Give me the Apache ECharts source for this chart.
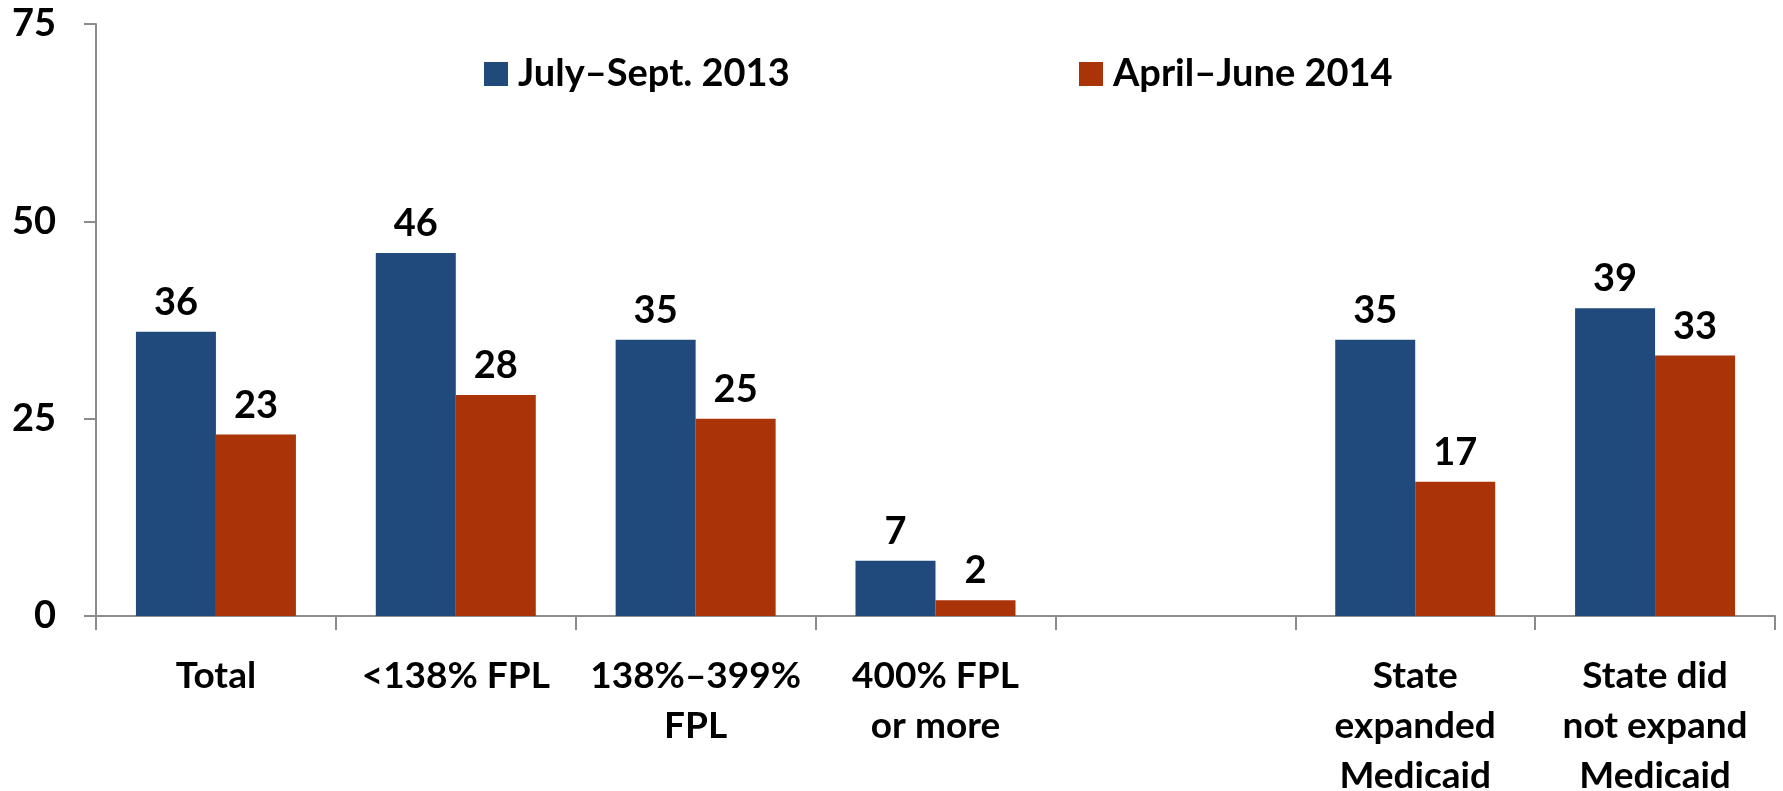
<!DOCTYPE html>
<html>
<head>
<meta charset="utf-8">
<script src="https://cdn.jsdelivr.net/npm/echarts@6/dist/echarts.min.js"></script>
<style>
    html, body { margin: 0; padding: 0; background: #fff; }
    #chart { width: 1783px; height: 791px; }
</style>
</head>
<body>
<div id="chart"></div>
<script>
const categories = ['Total', '<138% FPL', '138%–399%\nFPL', '400% FPL\nor more', '', 'State\nexpanded\nMedicaid', 'State did\nnot expand\nMedicaid'];
const seriesNames = ['July–Sept. 2013', 'April–June 2014'];
const julySept2013 = [36, 46, 35, 7, null, 35, 39];
const aprilJune2014 = [23, 28, 25, 2, null, 17, 33];
const yTicks = [0, 25, 50, 75];

const FONT = 'Lato';
const COLORS = { blue: '#20497C', orange: '#AA3408', axis: '#8C8C8C', text: '#000' };

const chart = echarts.init(document.getElementById('chart'));

function barSeries(name, data, color) {
    return {
        name: name,
        type: 'bar',
        data: data,
        barGap: '0%',
        barCategoryGap: '33.3%',
        itemStyle: { color: color },
        label: {
            show: true,
            position: 'top',
            distance: 10,
            color: COLORS.text,
            fontFamily: FONT,
            fontWeight: 'bold',
            fontSize: 38
        }
    };
}

// one legend per series so each sits where the original puts it
function legendAt(name, left) {
    return {
        data: [name],
        left: left, top: 50,
        itemWidth: 24, itemHeight: 24,
        icon: 'rect',
        textStyle: { fontFamily: FONT, fontWeight: 'bold', fontSize: 38, color: COLORS.text, padding: [0, 0, 0, 5] }
    };
}

const option = {
    backgroundColor: '#fff',
    animation: false,
    legend: [legendAt(seriesNames[0], 479), legendAt(seriesNames[1], 1074)],
    // labels run past the bottom edge in the original, so keep the grid fixed
    grid: { left: 96, right: 8, top: 24, bottom: 175, containLabel: false, outerBoundsMode: 'none' },
    xAxis: {
        type: 'category',
        data: categories,
        axisLine: { lineStyle: { color: COLORS.axis, width: 2 } },
        axisTick: { show: true, length: 14, lineStyle: { color: COLORS.axis, width: 2 } },
        axisLabel: {
            interval: 0,
            margin: 35,
            color: COLORS.text,
            fontFamily: FONT,
            fontWeight: 'bold',
            fontSize: 37,
            lineHeight: 50
        }
    },
    yAxis: {
        type: 'value',
        min: yTicks[0],
        max: yTicks[yTicks.length - 1],
        interval: 25,
        splitLine: { show: false },
        axisLine: { show: true, lineStyle: { color: COLORS.axis, width: 2 } },
        axisTick: { show: true, length: 12, lineStyle: { color: COLORS.axis, width: 2 } },
        axisLabel: {
            margin: 40,
            color: COLORS.text,
            fontFamily: FONT,
            fontWeight: 'bold',
            fontSize: 38
        }
    },
    series: [
        barSeries(seriesNames[0], julySept2013, COLORS.blue),
        barSeries(seriesNames[1], aprilJune2014, COLORS.orange)
    ]
};

chart.setOption(option);
</script>
</body>
</html>
